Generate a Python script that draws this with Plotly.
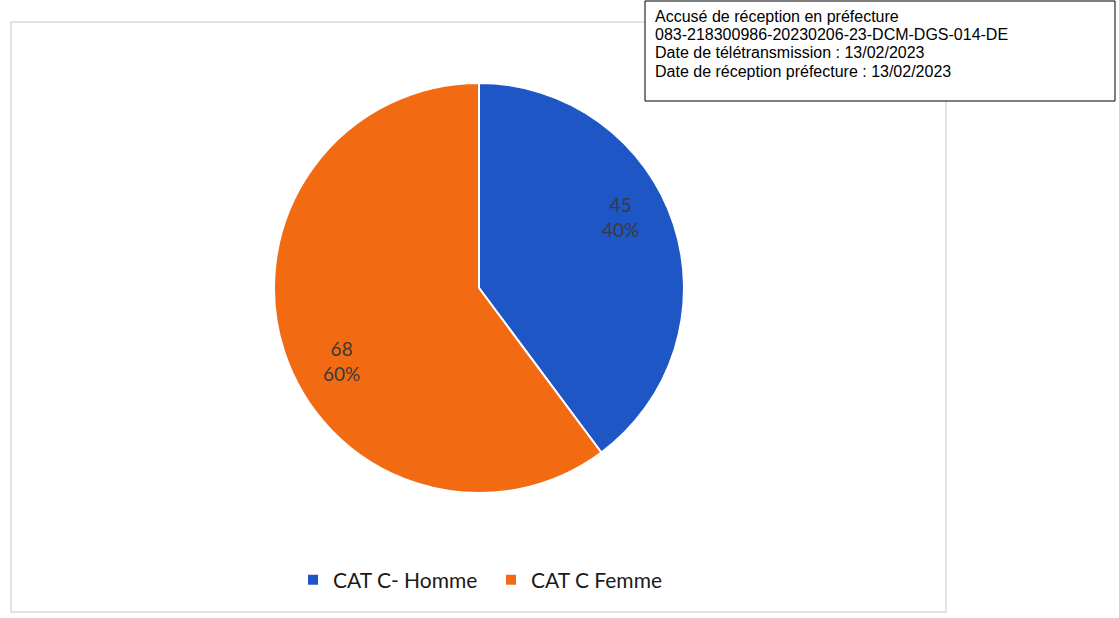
import math
import plotly.graph_objects as go

labels = ["CAT C- Homme", "CAT C Femme"]
values = [45, 68]
colors = ["#1f56c6", "#f26b12"]
stamp_lines = [
    "Accusé de réception en préfecture",
    "083-218300986-20230206-23-DCM-DGS-014-DE",
    "Date de télétransmission : 13/02/2023",
    "Date de réception préfecture : 13/02/2023",
]

W, H = 1119, 618
# pie geometry (pixels)
cx, cy, R = 479, 288, 205

fig = go.Figure()
fig.add_trace(go.Pie(
    labels=labels,
    values=values,
    sort=False,
    direction="clockwise",
    rotation=0,
    marker=dict(colors=colors, line=dict(color="white", width=2)),
    textinfo="none",
    domain=dict(x=[(cx - R) / W, (cx + R) / W], y=[(H - cy - R) / H, (H - cy + R) / H]),
    hoverinfo="label+value+percent",
))

# data labels placed like the original (Excel best-fit style)
total = sum(values)
cum = 0.0
for v in values:
    mid = (cum + v / 2) / total * 360.0 - 9.0
    cum += v
    ang = math.radians(mid)
    r = 0.765 * R
    px = cx + r * math.sin(ang)
    py = cy - r * math.cos(ang)
    fig.add_annotation(xref="paper", yref="paper", x=(px + 2) / W, y=(H - py - 1) / H,
                       xanchor="center", yanchor="middle", showarrow=False,
                       text=f"{v}<br>{round(v / total * 100)}%",
                       font=dict(family="Lato, Open Sans", size=19, color="#3a3a3a"))

# chart frame
fig.add_shape(type="rect", xref="paper", yref="paper",
              x0=11 / W, x1=946 / W, y0=(H - 612) / H, y1=(H - 22) / H,
              line=dict(color="#d9d9d9", width=1.5), layer="below")
# stamp box
fig.add_shape(type="rect", xref="paper", yref="paper",
              x0=645 / W, x1=1115 / W, y0=(H - 101) / H, y1=(H - 1) / H,
              line=dict(color="black", width=1), fillcolor="white", layer="above")
for i, line in enumerate(stamp_lines):
    yc = 16.5 + i * 18.2
    fig.add_annotation(xref="paper", yref="paper", x=654 / W, y=(H - yc) / H,
                       xanchor="left", yanchor="middle", align="left", showarrow=False,
                       text=line, borderpad=0,
                       font=dict(family="Liberation Sans, Arial", size=16, color="black"))

fig.update_layout(
    width=W, height=H,
    margin=dict(l=0, r=0, t=0, b=0),
    paper_bgcolor="white",
    plot_bgcolor="white",
    showlegend=True,
    legend=dict(orientation="h", x=293 / W, xanchor="left", y=(H - 580) / H, yanchor="middle",
                font=dict(family="Lato, Open Sans", size=21, color="#1a1a1a"),
                itemsizing="constant", traceorder="normal",
                entrywidth=153, entrywidthmode="pixels"),
)

fig.write_html("out.html")
